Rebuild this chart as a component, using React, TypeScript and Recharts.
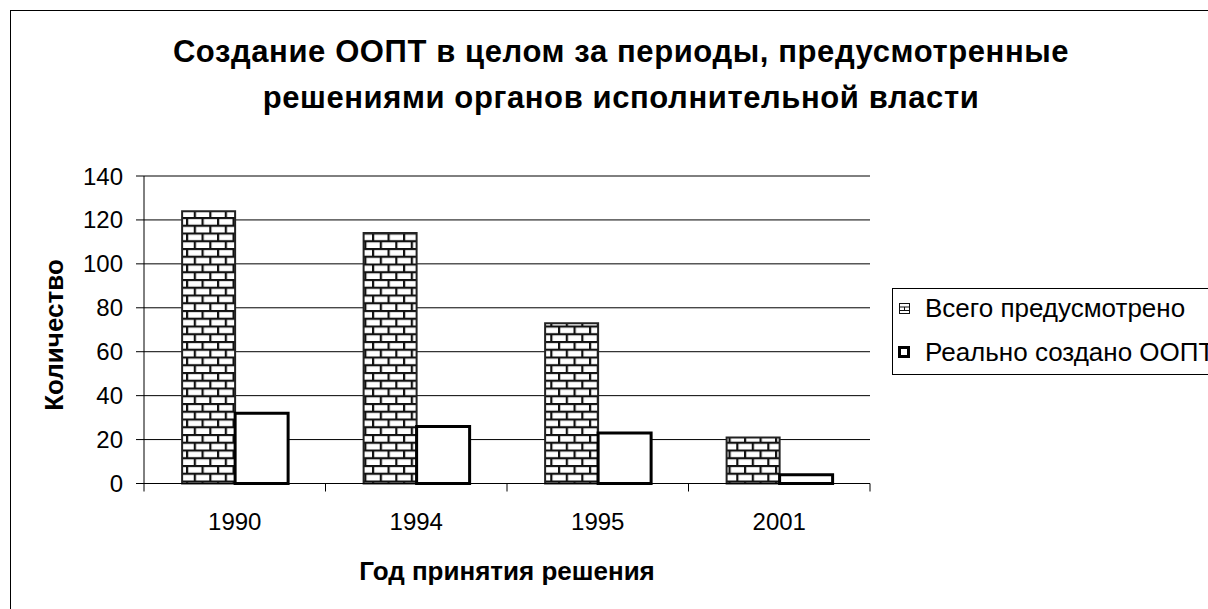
import React from 'react';
import { BarChart, Bar, XAxis, YAxis, CartesianGrid } from 'recharts';

const years = ['1990', '1994', '1995', '2001'];
const planned = [124, 114, 73, 21];
const created = [32, 26, 23, 4];
const yTicks = [0, 20, 40, 60, 80, 100, 120, 140];

const data = years.map((year, i) => ({ year, planned: planned[i], created: created[i] }));

const FONT = '"Liberation Sans", Arial, sans-serif';

const YearTick = (props: any) => {
  const { x, y, payload, index, visibleTicksCount } = props;
  const half = payload && payload.offset ? payload.offset : (870 - 144) / years.length / 2;
  const axisY = y - 8;
  return (
    <g>
      <line x1={x - half} x2={x - half} y1={axisY} y2={axisY + 8} stroke="#000" />
      {index === visibleTicksCount - 1 && (
        <line x1={x + half} x2={x + half} y1={axisY} y2={axisY + 8} stroke="#000" />
      )}
      <text x={x} y={y} dy={38} textAnchor="middle" fontSize={24} fontFamily={FONT} fill="#000">
        {payload.value}
      </text>
    </g>
  );
};

const BrickIcon = () => (
  <svg width={11} height={11} style={{ display: 'block' }}>
    <rect x={0.5} y={0.5} width={10} height={10} fill="#fff" stroke="#111" />
    <line x1={0} x2={11} y1={4} y2={4} stroke="#111" />
    <line x1={0} x2={11} y1={7.5} y2={7.5} stroke="#111" />
    <line x1={5.5} x2={5.5} y1={4} y2={7.5} stroke="#111" />
  </svg>
);

const BoxIcon = () => (
  <svg width={12} height={12} style={{ display: 'block' }}>
    <rect x={1.5} y={1.5} width={9} height={9} fill="#fff" stroke="#000" strokeWidth={3} />
  </svg>
);

export default function App() {
  return (
    <div
      style={{
        position: 'absolute',
        left: 0,
        top: 0,
        width: 1208,
        height: 609,
        overflow: 'hidden',
        background: '#fff',
        fontFamily: FONT,
      }}
    >
      <div
        style={{
          position: 'absolute',
          left: 10,
          top: 10,
          width: 1400,
          height: 800,
          border: '1px solid #000',
        }}
      />
      <div
        style={{
          position: 'absolute',
          left: 0,
          top: 29,
          width: 1242,
          textAlign: 'center',
          fontWeight: 'bold',
          fontSize: 31,
          letterSpacing: 0.6,
          lineHeight: '46px',
        }}
      >
        Создание ООПТ в целом за периоды, предусмотренные
        <br />
        решениями органов исполнительной власти
      </div>

      <BarChart
        width={1208}
        height={609}
        data={data}
        margin={{ top: 176, right: 338, bottom: 65.5, left: 0 }}
        barCategoryGap="21%"
        barGap={0}
        style={{ position: 'absolute', left: 0, top: 0 }}
      >
        <defs>
          <pattern id="brick" patternUnits="userSpaceOnUse" width={15.5} height={15.5}>
            <rect x={0} y={0} width={15.5} height={15.5} fill="#fff" />
            <line x1={0} x2={15.5} y1={1} y2={1} stroke="#111" strokeWidth={2.2} />
            <line x1={0} x2={15.5} y1={8.75} y2={8.75} stroke="#111" strokeWidth={2.2} />
            <line x1={1.1} x2={1.1} y1={0} y2={8.75} stroke="#111" strokeWidth={2.2} />
            <line x1={8.85} x2={8.85} y1={8.75} y2={15.5} stroke="#111" strokeWidth={2.2} />
          </pattern>
        </defs>
        <CartesianGrid vertical={false} stroke="#000" strokeWidth={1} />
        <XAxis
          dataKey="year"
          height={60}
          axisLine={{ stroke: '#000' }}
          tickLine={false}
          tickSize={8}
          tickMargin={0}
          tick={<YearTick />}
          interval={0}
        />
        <YAxis
          width={144}
          domain={[0, 140]}
          ticks={yTicks}
          interval={0}
          axisLine={{ stroke: '#000' }}
          tickLine={{ stroke: '#000' }}
          tickSize={8}
          tickMargin={13}
          tick={{ fill: '#000', fontSize: 24, fontFamily: FONT }}
        />
        <YAxis
          yAxisId="right"
          orientation="right"
          width={0}
          domain={[0, 140]}
          tick={false}
          tickLine={false}
          axisLine={{ stroke: '#000' }}
        />
        <Bar
          dataKey="planned"
          name="Всего предусмотрено"
          fill="url(#brick)"
          stroke="#222"
          strokeWidth={2}
          isAnimationActive={false}
        />
        <Bar
          dataKey="created"
          name="Реально создано ООПТ"
          fill="#fff"
          stroke="#000"
          strokeWidth={3}
          isAnimationActive={false}
        />
      </BarChart>

      <div
        style={{
          position: 'absolute',
          left: 54,
          top: 335,
          transform: 'translate(-50%, -50%) rotate(-90deg)',
          fontWeight: 'bold',
          fontSize: 26,
          whiteSpace: 'nowrap',
        }}
      >
        Количество
      </div>
      <div
        style={{
          position: 'absolute',
          left: 307,
          top: 555,
          width: 400,
          textAlign: 'center',
          fontWeight: 'bold',
          fontSize: 26,
          lineHeight: '32px',
        }}
      >
        Год принятия решения
      </div>

      <div
        style={{
          position: 'absolute',
          left: 892,
          top: 288,
          width: 400,
          height: 87,
          border: '1px solid #000',
          boxSizing: 'border-box',
          fontSize: 26,
        }}
      >
        <div style={{ position: 'absolute', left: 6, top: 4, display: 'flex', alignItems: 'center', height: 30, whiteSpace: 'nowrap' }}>
          <BrickIcon />
          <span style={{ marginLeft: 15 }}>Всего предусмотрено</span>
        </div>
        <div style={{ position: 'absolute', left: 5, top: 48, display: 'flex', alignItems: 'center', height: 30, whiteSpace: 'nowrap' }}>
          <BoxIcon />
          <span style={{ marginLeft: 15 }}>Реально создано ООПТ</span>
        </div>
      </div>
    </div>
  );
}
